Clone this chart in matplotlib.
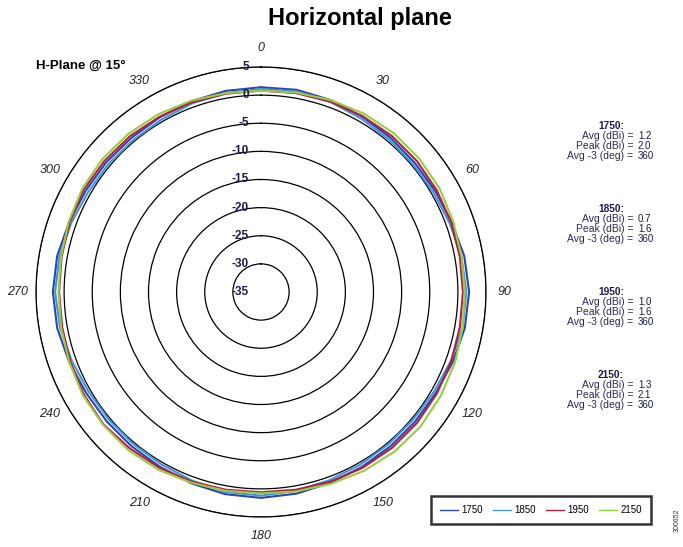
import numpy as np
import matplotlib
matplotlib.use("Agg")
import matplotlib.pyplot as plt

plt.rcParams['font.family'] = ['Liberation Sans', 'DejaVu Sans']

# pattern data, dBi, every 10 degrees
angles_deg = np.arange(0, 360, 10)
g1750 = [1.4, 1.5, 1.3, 1.0, 0.8, 0.7, 0.8, 1.1, 1.7, 2.0, 1.8, 1.3,
         0.9, 0.8, 0.8, 0.9, 1.1, 1.4, 1.6, 1.5, 1.2, 0.9, 0.8, 0.8,
         0.9, 1.3, 1.8, 2.0, 1.8, 1.3, 1.0, 0.9, 0.8, 0.9, 1.1, 1.3]
g1850 = [1.1, 1.2, 1.0, 0.6, 0.4, 0.3, 0.4, 0.7, 1.2, 1.5, 1.4, 0.9,
         0.5, 0.3, 0.3, 0.4, 0.6, 0.9, 1.2, 1.1, 0.7, 0.4, 0.3, 0.3,
         0.4, 0.8, 1.3, 1.6, 1.4, 0.9, 0.5, 0.4, 0.3, 0.4, 0.7, 0.9]
g1950 = [0.8, 0.9, 1.0, 1.1, 1.2, 1.2, 1.1, 1.0, 0.9, 0.9, 0.9, 1.0,
         1.1, 1.2, 1.2, 1.1, 0.9, 0.7, 0.6, 0.7, 0.9, 1.1, 1.3, 1.6,
         1.4, 1.1, 0.9, 0.9, 1.0, 1.2, 1.4, 1.3, 1.2, 1.0, 0.9, 0.8]
g2150 = [0.8, 1.0, 1.3, 1.6, 1.8, 1.8, 1.7, 1.4, 1.2, 1.2, 1.4, 1.7,
         1.9, 2.1, 2.0, 1.7, 1.3, 1.0, 0.8, 0.9, 1.1, 1.5, 1.7, 1.7,
         1.6, 1.3, 1.1, 1.0, 1.1, 1.4, 1.7, 1.8, 1.7, 1.5, 1.2, 0.9]

series_names = ['1750', '1850', '1950', '2150']
series_colors = ['#2d43b0', '#3f94dc', '#b02045', '#9ccc3c']

ring_values = [5, 0, -5, -10, -15, -20, -25, -30, -35]
angle_labels = ['0', '30', '60', '90', '120', '150', '180', '210', '240', '270', '300', '330']

stats_avg = ['1.2', '0.7', '1.0', '1.3']
stats_peak = ['2.0', '1.6', '1.6', '2.1']
stats_beam = ['360', '360', '360', '360']

W, H = 683, 547
fig = plt.figure(figsize=(W / 100, H / 100), dpi=100)

cx, cy, R = 261, 292, 225
ax = fig.add_axes([(cx - R) / W, (H - cy - R) / H, 2 * R / W, 2 * R / H], projection='polar')
ax.set_theta_zero_location('N')
ax.set_theta_direction(-1)
ax.set_ylim(-35, 5)
ax.set_yticks([r for r in ring_values if r > -35])
ax.set_yticklabels([])
ax.set_xticks([])
ax.yaxis.grid(True, color='black', lw=0.9, ls='-')
ax.xaxis.grid(False)
ax.spines['polar'].set_color('black')
ax.spines['polar'].set_linewidth(0.9)

theta = np.deg2rad(np.append(angles_deg, angles_deg[0]))
for name, vals, col in zip(series_names, [g1750, g1850, g1950, g2150], series_colors):
    ax.plot(theta, np.append(vals, vals[0]), color=col, lw=1.5, label=name)

# radial labels along 0 deg
for r in ring_values:
    ax.annotate(str(r), xy=(0, r), xytext=(-12, 0), textcoords='offset pixels',
                ha='right', va='center', fontsize=8.5, fontweight='bold', color='#1c1c48')

# angle labels
for i, lab in enumerate(angle_labels):
    ax.text(np.deg2rad(30 * i), 8.3, lab, ha='center', va='center', fontsize=9,
            style='italic', color='#222222', clip_on=False)

fig.text(360 / W, 1 - 18 / H, 'Horizontal plane', ha='center', va='center',
         fontsize=17, fontweight='bold')
fig.text(36 / W, 1 - 66 / H, 'H-Plane @ 15°', ha='left', va='center',
         fontsize=9.5, fontweight='bold')

# stats blocks
block_y = [126, 209, 292, 375]
for i, name in enumerate(series_names):
    y0 = block_y[i]
    fig.text(611 / W, 1 - y0 / H, name + ':', ha='center', va='center',
             fontsize=7.3, fontweight='bold', color='#1c1c48')
    rows = [('Avg (dBi) =', stats_avg[i]), ('Peak (dBi) =', stats_peak[i]),
            ('Avg -3 (deg) =', stats_beam[i])]
    for j, (lab, val) in enumerate(rows):
        yy = y0 + 10 * (j + 1)
        fig.text(633 / W, 1 - yy / H, lab, ha='right', va='center',
                 fontsize=7.5, color='#2a2a55')
        fig.text(638 / W, 1 - yy / H, val, ha='left', va='center',
                 fontsize=7, color='#1c1c48')

leg = fig.legend(loc='center', bbox_to_anchor=(541 / W, 1 - 510 / H), ncol=4,
                 fontsize=7, frameon=True, fancybox=False, handlelength=1.9,
                 columnspacing=1.0, handletextpad=0.35, borderpad=0.9,
                 borderaxespad=0)
leg.get_frame().set_edgecolor('black')
leg.get_frame().set_linewidth(1.8)
for h in leg.get_lines():
    h.set_linewidth(1.0)

fig.text(677 / W, 1 - 520 / H, '300652', rotation=90, ha='center', va='center',
         fontsize=5, color='#333333')

fig.savefig('out.png', dpi=100)
